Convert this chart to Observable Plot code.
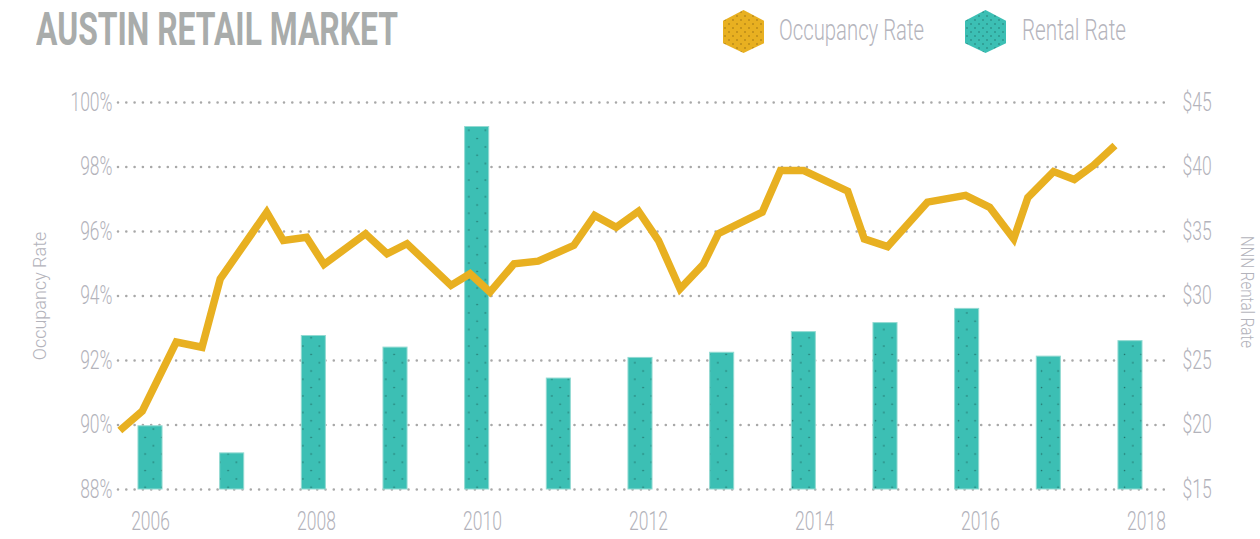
<!DOCTYPE html>
<html>
<head>
<meta charset="utf-8">
<script src="https://cdn.jsdelivr.net/npm/d3@7"></script>
<script src="https://cdn.jsdelivr.net/npm/@observablehq/plot@0.6"></script>
<style>
  html, body { margin: 0; padding: 0; background: #ffffff; }
  #wrap { position: relative; width: 1260px; height: 539px; overflow: hidden; font-family: Roboto, sans-serif; }
  #header { position: relative; width: 1260px; height: 60px; }
  .squeeze { position: absolute; display: inline-block; white-space: nowrap; transform-origin: 0 0; }
  #title { left: 36px; top: 6px; font-size: 46px; line-height: 46px; font-weight: 700; color: #a9acab; }
  .lg-text { top: 16px; font-size: 29px; line-height: 29px; font-weight: 300; color: #b5b5bd; }
  .lg-hex { position: absolute; top: 10px; }
  #chart { position: relative; width: 1260px; height: 479px; }
  #chart svg { position: absolute; left: 0; top: 0; background: transparent; }
  #chart svg text { font-family: Roboto, sans-serif; font-weight: 300; }
</style>
</head>
<body>
<div id="wrap">
  <div id="header">
    <div id="title" class="squeeze" data-width="362">AUSTIN RETAIL MARKET</div>
    <svg class="lg-hex" style="left:723px" width="41" height="43" viewBox="0 0 41 43">
      <defs>
        <pattern id="goldDots" width="8" height="8" patternUnits="userSpaceOnUse">
          <rect width="8" height="8" fill="#e8b021"/>
          <circle cx="2" cy="2" r="0.7" fill="#8a6410"/>
          <circle cx="6" cy="6" r="0.7" fill="#8a6410"/>
        </pattern>
      </defs>
      <polygon points="20.5,0 41,10.7 41,33.3 20.5,43 0,33.3 0,10.7" fill="url(#goldDots)"/>
    </svg>
    <div class="lg-text squeeze" style="left:779px" data-width="145">Occupancy Rate</div>
    <svg class="lg-hex" style="left:965px" width="41" height="43" viewBox="0 0 41 43">
      <defs>
        <pattern id="tealDots" width="8" height="8" patternUnits="userSpaceOnUse">
          <rect width="8" height="8" fill="#3cbfb4"/>
          <circle cx="2" cy="2" r="0.7" fill="#1d6a63"/>
          <circle cx="6" cy="6" r="0.7" fill="#1d6a63"/>
        </pattern>
      </defs>
      <polygon points="20.5,0 41,10.7 41,33.3 20.5,43 0,33.3 0,10.7" fill="url(#tealDots)"/>
    </svg>
    <div class="lg-text squeeze" style="left:1022px" data-width="104">Rental Rate</div>
  </div>
  <div id="chart"></div>
</div>
<script>
// ---- data ----
const years = [2006, 2007, 2008, 2009, 2010, 2011, 2012, 2013, 2014, 2015, 2016, 2017, 2018];
const rentValues = [19.9, 17.8, 26.9, 26.0, 43.1, 23.6, 25.2, 25.6, 27.2, 27.9, 29.0, 25.3, 26.5];
const occDates = [2005.63, 2005.90, 2006.31, 2006.62, 2006.84, 2007.40, 2007.60, 2007.88, 2008.09, 2008.59,
                  2008.85, 2009.09, 2009.62, 2009.85, 2010.09, 2010.38, 2010.67, 2011.10, 2011.35, 2011.61,
                  2011.88, 2012.12, 2012.38, 2012.66, 2012.84, 2013.37, 2013.59, 2013.87, 2014.40, 2014.60,
                  2014.88, 2015.36, 2015.82, 2016.11, 2016.40, 2016.57, 2016.88, 2017.13, 2017.36, 2017.62];
const occValues = [89.83, 90.43, 92.57, 92.41, 94.53, 96.60, 95.72, 95.82, 94.98, 95.93,
                   95.31, 95.62, 94.33, 94.69, 94.12, 95.00, 95.08, 95.57, 96.50, 96.13,
                   96.63, 95.72, 94.22, 94.98, 95.93, 96.60, 97.89, 97.89, 97.25, 95.77,
                   95.53, 96.91, 97.12, 96.75, 95.77, 97.05, 97.86, 97.61, 98.05, 98.67];
const occTicks = [88, 90, 92, 94, 96, 98, 100];
const rentTicks = [15, 20, 25, 30, 35, 40, 45];
const xTicks = [2006, 2008, 2010, 2012, 2014, 2016, 2018];
const leftTitle = "Occupancy Rate";
const rightTitle = "NNN Rental Rate";

// ---- build ----
const rent = years.map((year, i) => ({year, rent: rentValues[i]}));
const occ = occDates.map((t, i) => ({t, v: occValues[i]}));

const W = 1260, H = 479, ML = 118, MR = 90, MT = 42, MB = 50;
const textColor = "#b3b3bb";

const plotA = Plot.plot({
  width: W, height: H, marginLeft: ML, marginRight: MR, marginTop: MT, marginBottom: MB,
  style: {background: "transparent"},
  x: {domain: [2005.608, 2018.49], axis: null},
  y: {domain: [15, 45], axis: null},
  marks: [
    Plot.ruleY(rentTicks, {stroke: "#a8a8a8", strokeWidth: 2.6, strokeDasharray: "0 8.3", strokeLinecap: "round"}),
    Plot.rectY(rent, {x1: d => d.year - 0.5, x2: d => d.year + 0.5, y1: 15, y2: "rent",
      insetLeft: 28.8, insetRight: 28.8, fill: "url(#barDots)", stroke: "#93dad2", strokeWidth: 1}),
    Plot.axisY(rentTicks, {anchor: "right", label: null, tickSize: 0, tickPadding: 12,
      tickFormat: d => "$" + d, fontSize: 25, fill: textColor, className: "sq70"}),
    Plot.text([rightTitle], {frameAnchor: "right", textAnchor: "middle", lineAnchor: "middle",
      dx: 76, dy: -4, rotate: 90, fontSize: 18, fill: textColor, className: "sq84"})
  ]
});
d3.select(plotA).insert("defs", ":first-child").html(
  `<pattern id="barDots" width="16.6" height="16.6" patternUnits="userSpaceOnUse">
     <rect width="16.6" height="16.6" fill="#3cbfb4"/>
     <circle cx="4" cy="4" r="0.75" fill="#1f6a64"/>
     <circle cx="12.3" cy="12.3" r="0.75" fill="#1f6a64"/>
   </pattern>`);

const plotB = Plot.plot({
  width: W, height: H, marginLeft: ML, marginRight: MR, marginTop: MT, marginBottom: MB,
  style: {background: "transparent"},
  x: {domain: [2005.614, 2018.289], axis: null},
  y: {domain: [88, 100], axis: null},
  marks: [
    Plot.line(occ, {x: "t", y: "v", stroke: "#e8b021", strokeWidth: 7.5,
      strokeLinejoin: "miter", strokeLinecap: "butt", strokeMiterlimit: 10}),
    Plot.axisY(occTicks, {anchor: "left", label: null, tickSize: 0, tickPadding: 6,
      tickFormat: d => d + "%", fontSize: 25, fill: textColor, className: "sq70"}),
    Plot.axisX(xTicks, {anchor: "bottom", label: null, tickSize: 0, tickPadding: 23,
      tickFormat: d => String(d), fontSize: 25, fill: textColor, className: "sq70"}),
    Plot.text([leftTitle], {frameAnchor: "left", textAnchor: "middle", lineAnchor: "middle",
      dx: -78, rotate: -90, fontSize: 18, fill: textColor, className: "sq100"})
  ]
});

const chart = document.getElementById("chart");
chart.appendChild(plotA);
chart.appendChild(plotB);

// condense the light type to match the narrow face of the original
function squeezeSvg(sel, k) {
  document.querySelectorAll(sel).forEach(el => {
    const L = el.getComputedTextLength();
    if (L > 0) {
      el.setAttribute("textLength", (L * k).toFixed(2));
      el.setAttribute("lengthAdjust", "spacingAndGlyphs");
    }
  });
}
squeezeSvg(".sq70 text", 0.70);
squeezeSvg(".sq84 text", 0.84);
squeezeSvg(".sq100 text", 1.0);
document.querySelectorAll(".squeeze").forEach(el => {
  const target = +el.dataset.width;
  const w = el.getBoundingClientRect().width;
  if (w > 0) el.style.transform = `scaleX(${(target / w).toFixed(4)})`;
});
</script>
</body>
</html>
